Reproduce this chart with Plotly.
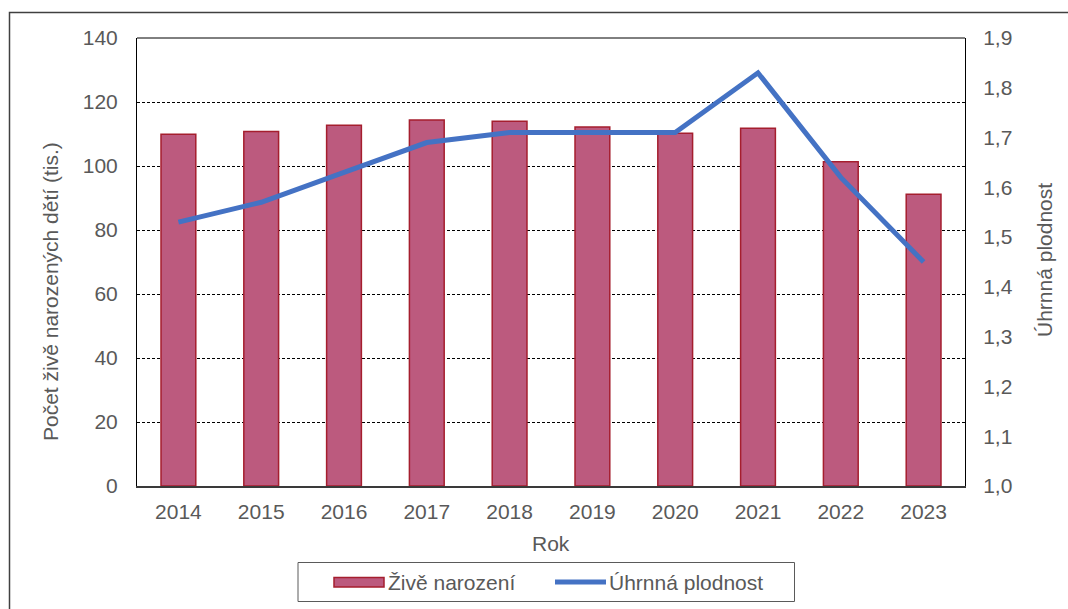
import plotly.graph_objects as go

years = ["2014", "2015", "2016", "2017", "2018", "2019", "2020", "2021", "2022", "2023"]
births = [109.9, 110.8, 112.7, 114.4, 114.0, 112.2, 110.2, 111.8, 101.3, 91.2]
tfr = [1.53, 1.57, 1.63, 1.69, 1.71, 1.71, 1.71, 1.83, 1.62, 1.45]
left_ticks = [0, 20, 40, 60, 80, 100, 120, 140]
right_ticks = [1.0, 1.1, 1.2, 1.3, 1.4, 1.5, 1.6, 1.7, 1.8, 1.9]
series_names = ["Živě narození", "Úhrnná plodnost"]

W, H = 1068, 609
L, R, T, B = 137, 965, 38, 486
FONT = "Liberation Sans, Arial, sans-serif"
GREY = "#595959"
FS = 21
BAR_FILL = "#BC5A7E"
BAR_EDGE = "#A51E2E"
LINE_COL = "#4472C4"

fig = go.Figure()
fig.add_trace(go.Bar(
    x=years, y=births, name=series_names[0],
    marker=dict(color=BAR_FILL, line=dict(color=BAR_EDGE, width=1.5)),
    yaxis="y",
))
fig.add_trace(go.Scatter(
    x=years, y=tfr, name=series_names[1], mode="lines",
    line=dict(color=LINE_COL, width=5),
    yaxis="y2",
))

def px(x):
    return (x - L) / (R - L)

def py(y):
    return (B - y) / (B - T)

fig.update_layout(
    width=W, height=H,
    margin=dict(l=L, r=W - R, t=T, b=H - B, pad=0, autoexpand=False),
    paper_bgcolor="white", plot_bgcolor="white",
    separators=", ",
    font=dict(family=FONT, size=FS, color=GREY),
    bargap=0.58,
    showlegend=False,
    xaxis=dict(
        type="category", showgrid=False, showline=True,
        linecolor="#3a3a3a", linewidth=2,
        ticks="", ticklabelstandoff=6,
        tickfont=dict(size=FS, color=GREY),
    ),
    yaxis=dict(
        range=[0, 140], tickvals=left_ticks, showgrid=True,
        gridcolor="black", gridwidth=1, griddash="3px,2px",
        zeroline=False, showline=True, linecolor="black", linewidth=1,
        ticks="", ticklabelstandoff=14,
        tickfont=dict(size=FS, color=GREY),
    ),
    yaxis2=dict(
        range=[1.0, 1.9], tickvals=right_ticks, tickformat=".1f",
        overlaying="y", side="right", showgrid=False, zeroline=False,
        showline=True, linecolor="black", linewidth=1,
        ticks="", ticklabelstandoff=13,
        tickfont=dict(size=FS, color=GREY),
    ),
    shapes=[
        # top border of plot area
        dict(type="line", xref="paper", yref="paper", x0=0, x1=1, y0=1, y1=1,
             line=dict(color="black", width=1)),
        # outer chart frame
        dict(type="rect", xref="paper", yref="paper",
             x0=px(9.5), x1=px(1090), y0=py(640), y1=py(12.5),
             line=dict(color="#404040", width=1.5), layer="below"),
        # legend box
        dict(type="rect", xref="paper", yref="paper",
             x0=px(298), x1=px(794.5), y0=py(601.5), y1=py(562.5),
             line=dict(color="#5a5a5a", width=1), fillcolor="white"),
        # legend bar symbol
        dict(type="rect", xref="paper", yref="paper",
             x0=px(334), x1=px(384), y0=py(587), y1=py(577.5),
             line=dict(color=BAR_EDGE, width=1.5), fillcolor=BAR_FILL),
        # legend line symbol
        dict(type="line", xref="paper", yref="paper",
             x0=px(555), x1=px(606), y0=py(582), y1=py(582),
             line=dict(color=LINE_COL, width=5)),
    ],
    annotations=[
        dict(text="Počet živě narozených dětí (tis.)", xref="paper", yref="paper",
             x=px(50), y=py(292), textangle=-90, showarrow=False,
             xanchor="center", yanchor="middle", font=dict(size=FS, color=GREY)),
        dict(text="Úhrnná plodnost", xref="paper", yref="paper",
             x=px(1044), y=py(260), textangle=-90, showarrow=False,
             xanchor="center", yanchor="middle", font=dict(size=FS, color=GREY)),
        dict(text="Rok", xref="paper", yref="paper",
             x=px(551), y=py(543), showarrow=False,
             xanchor="center", yanchor="middle", font=dict(size=FS, color=GREY)),
        dict(text=series_names[0], xref="paper", yref="paper",
             x=px(386), y=py(582), showarrow=False,
             xanchor="left", yanchor="middle", font=dict(size=FS, color=GREY)),
        dict(text=series_names[1], xref="paper", yref="paper",
             x=px(607), y=py(582), showarrow=False,
             xanchor="left", yanchor="middle", font=dict(size=FS, color=GREY)),
    ],
)

fig.write_html("out.html", config={"displayModeBar": False},
               post_script="document.body.style.margin='0';")
